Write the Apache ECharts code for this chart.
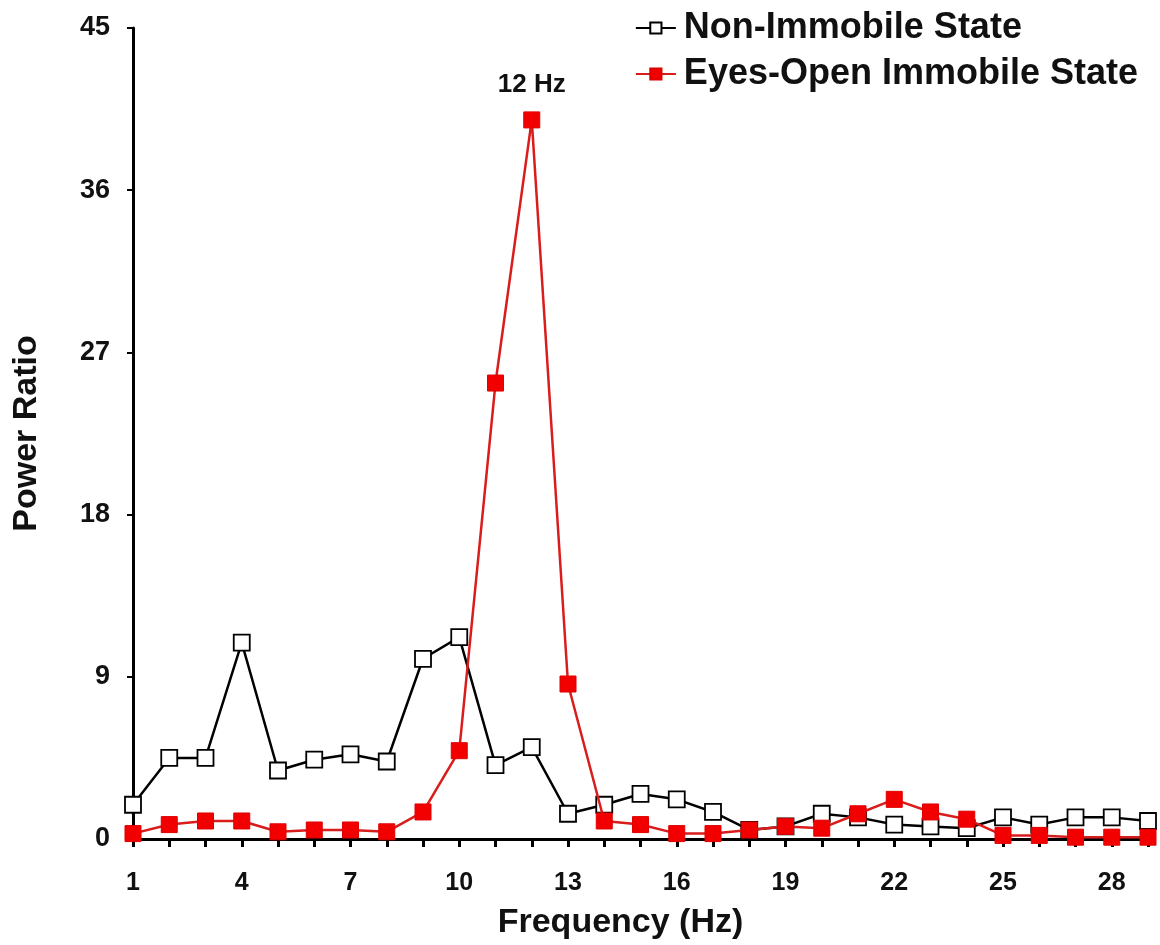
<!DOCTYPE html>
<html>
<head>
<meta charset="utf-8">
<script src="https://cdn.jsdelivr.net/npm/echarts@6/dist/echarts.min.js"></script>
<style>
  html, body { margin: 0; padding: 0; background: #fff; }
  #chart { width: 1160px; height: 945px; }
</style>
</head>
<body>
<div id="chart"></div>
<script>
// Frequency bins (Hz)
const freqs = [1,2,3,4,5,6,7,8,9,10,11,12,13,14,15,16,17,18,19,20,21,22,23,24,25,26,27,28,29];

// Power ratio per frequency bin
const nonImmobile = [1.9,4.5,4.5,10.9,3.8,4.4,4.7,4.3,10.0,11.2,4.1,5.1,1.4,1.9,2.5,2.2,1.5,0.5,0.7,1.4,1.2,0.8,0.7,0.6,1.2,0.8,1.2,1.2,1.0];
const eyesOpenImmobile = [0.3,0.8,1.0,1.0,0.4,0.5,0.5,0.4,1.5,4.9,25.3,39.9,8.6,1.0,0.8,0.3,0.3,0.5,0.7,0.6,1.4,2.2,1.5,1.1,0.2,0.2,0.1,0.1,0.1];

// Y axis tick values
const yTicks = [0, 9, 18, 27, 36, 45];

const seriesNames = ['Non-Immobile State', 'Eyes-Open Immobile State'];
const peakFreq = 12;

const FONT = '"Liberation Sans", Arial, sans-serif';

const toPoints = vals => freqs.map((f, i) => [f, vals[i]]);

// Annotate the peak bin of the immobile-state curve with its frequency
const redPoints = toPoints(eyesOpenImmobile).map(p => {
  if (p[0] === peakFreq) {
    return {
      value: p,
      label: {
        show: true,
        position: 'top',
        distance: 14,
        formatter: params => params.value[0] + ' Hz',
        fontFamily: FONT,
        fontWeight: 'bold',
        fontSize: 26,
        color: '#111'
      }
    };
  }
  return p;
});

const chart = echarts.init(document.getElementById('chart'), null, { renderer: 'canvas' });

chart.setOption({
  backgroundColor: '#ffffff',
  animation: false,
  textStyle: { fontFamily: FONT },
  grid: { left: 133, right: 12, top: 28, bottom: 106, containLabel: false },
  legend: {
    orient: 'vertical',
    right: 17,
    top: 5,
    itemWidth: 40,
    itemHeight: 14,
    itemGap: 10,
    data: seriesNames,
    textStyle: { fontFamily: FONT, fontWeight: 'bold', fontSize: 36, color: '#111', padding: [0, 0, 0, 3] }
  },
  xAxis: {
    type: 'value',
    min: freqs[0],
    max: freqs[freqs.length - 1],
    interval: 1,
    name: 'Frequency (Hz)',
    nameLocation: 'middle',
    nameGap: 67,
    nameTextStyle: {
      fontFamily: FONT, fontWeight: 'bold', fontSize: 34, color: '#111',
      padding: [0, 40, 0, 0]
    },
    splitLine: { show: false },
    axisLine: { lineStyle: { color: '#000', width: 3 } },
    axisTick: { inside: false, length: 8, lineStyle: { color: '#000', width: 3 } },
    axisLabel: {
      margin: 32,
      fontFamily: FONT,
      fontWeight: 'bold',
      fontSize: 25,
      color: '#111',
      formatter: v => ((v - freqs[0]) % 3 === 0 ? String(v) : '')
    }
  },
  yAxis: {
    type: 'value',
    min: yTicks[0],
    max: yTicks[yTicks.length - 1],
    interval: yTicks[1] - yTicks[0],
    name: 'Power Ratio',
    nameLocation: 'middle',
    nameGap: 89,
    nameTextStyle: { fontFamily: FONT, fontWeight: 'bold', fontSize: 34, color: '#111' },
    splitLine: { show: false },
    axisLine: { show: true, lineStyle: { color: '#000', width: 3 } },
    axisTick: { show: true, inside: false, length: 6, lineStyle: { color: '#000', width: 2 } },
    axisLabel: {
      margin: 23,
      fontFamily: FONT,
      fontWeight: 'bold',
      fontSize: 27,
      color: '#111'
    }
  },
  series: [
    {
      name: seriesNames[0],
      type: 'line',
      data: toPoints(nonImmobile),
      symbol: 'rect',
      symbolSize: 16,
      lineStyle: { color: '#000', width: 2.5 },
      itemStyle: { color: '#fff', borderColor: '#000', borderWidth: 1.8 },
      z: 2
    },
    {
      name: seriesNames[1],
      type: 'line',
      data: redPoints,
      symbol: 'rect',
      symbolSize: 16,
      lineStyle: { color: '#d91c1c', width: 2.5 },
      itemStyle: { color: '#f20000', borderColor: '#e00000', borderWidth: 1 },
      z: 3
    }
  ]
});
</script>
</body>
</html>
